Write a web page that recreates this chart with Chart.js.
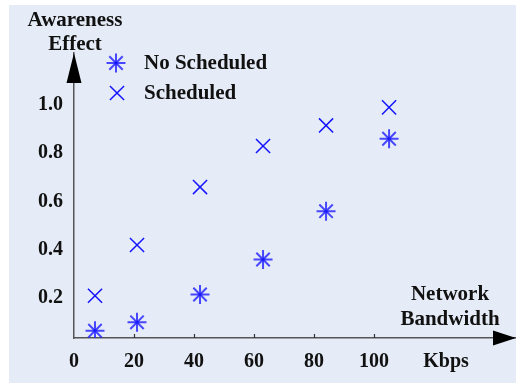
<!DOCTYPE html>
<html>
<head>
<meta charset="utf-8">
<script src="https://cdn.jsdelivr.net/npm/chart.js@4/dist/chart.umd.min.js"></script>
<style>
  html, body { margin: 0; padding: 0; background: #fff; }
  canvas { display: block; }
</style>
</head>
<body>
<canvas id="awareness" width="516" height="383"></canvas>
<script>
const bandwidth = [7, 21, 42, 63, 84, 105];
const noScheduled = [0.065, 0.10, 0.215, 0.36, 0.56, 0.86];
const scheduled = [0.21, 0.42, 0.66, 0.83, 0.915, 0.99];
const xTicks = [0, 20, 40, 60, 80, 100];
const yTicks = [0.2, 0.4, 0.6, 0.8, 1.0];
const unitTick = 124; // "Kbps" sits on the axis after 100

const blue = "rgb(20, 20, 255)";
const serif = "'Liberation Serif', 'Times New Roman', serif";

function toPoints(ys) {
  return bandwidth.map((x, i) => ({ x: x, y: ys[i] }));
}

const decor = {
  id: "decor",
  beforeDraw(chart) {
    const ctx = chart.ctx;
    ctx.save();
    ctx.fillStyle = "#ffffff";
    ctx.fillRect(0, 0, chart.width, chart.height);
    ctx.fillStyle = "#e6ecf7";
    ctx.fillRect(9, 5, chart.width - 9, chart.height - 5);
    ctx.restore();
  },
  afterDraw(chart) {
    const ctx = chart.ctx;
    const area = chart.chartArea;
    const xs = chart.scales.x;
    ctx.save();

    // small ticks above the x axis
    ctx.strokeStyle = "#333";
    ctx.lineWidth = 1.2;
    xTicks.slice(1).forEach((v) => {
      const px = Math.round(xs.getPixelForValue(v)) + 0.5;
      ctx.beginPath();
      ctx.moveTo(px, area.bottom);
      ctx.lineTo(px, area.bottom - 4);
      ctx.stroke();
    });

    // arrow heads
    ctx.fillStyle = "#000";
    ctx.beginPath();
    ctx.moveTo(area.left, area.top);
    ctx.lineTo(area.left - 7.5, area.top + 30);
    ctx.lineTo(area.left + 7.5, area.top + 30);
    ctx.closePath();
    ctx.fill();
    ctx.beginPath();
    ctx.moveTo(area.right, area.bottom);
    ctx.lineTo(area.right - 23, area.bottom - 7.5);
    ctx.lineTo(area.right - 23, area.bottom + 7.5);
    ctx.closePath();
    ctx.fill();

    // axis titles
    ctx.fillStyle = "#111";
    ctx.font = "bold 21px " + serif;
    ctx.textAlign = "center";
    ctx.textBaseline = "middle";
    ctx.fillText("Awareness", 75, 21);
    ctx.fillText("Effect", 75, 45);
    ctx.fillText("Network", 450, 295);
    ctx.fillText("Bandwidth", 450, 320);

    // legend
    const rows = [
      { ds: 0, x: 116, y: 63 },
      { ds: 1, x: 117, y: 93 }
    ];
    rows.forEach((r) => {
      const ds = chart.data.datasets[r.ds];
      ctx.strokeStyle = ds.borderColor;
      ctx.lineWidth = ds.borderWidth;
      Chart.helpers.drawPoint(ctx, {
        pointStyle: ds.pointStyle,
        radius: ds.pointRadius,
        borderWidth: ds.borderWidth,
        rotation: 0
      }, r.x, r.y);
      if (r.ds === 0) {
        ctx.fillStyle = blue;
        ctx.beginPath();
        ctx.arc(r.x, r.y, 1.8, 0, Math.PI * 2);
        ctx.fill();
      }
      ctx.fillStyle = "#111";
      ctx.textAlign = "left";
      ctx.fillText(ds.label, 144, r.y + 1);
    });
    ctx.restore();
  }
};

const config = {
  type: "scatter",
  data: {
    datasets: [
      {
        label: "No Scheduled",
        data: toPoints(noScheduled),
        pointStyle: "star",
        pointRadius: 9.5,
        pointHoverRadius: 9.5,
        borderColor: "rgba(30, 30, 255, 0.8)",
        backgroundColor: "rgba(30, 30, 255, 0.8)",
        borderWidth: 2
      },
      {
        label: "Scheduled",
        data: toPoints(scheduled),
        pointStyle: "crossRot",
        pointRadius: 10,
        pointHoverRadius: 10,
        borderColor: blue,
        backgroundColor: blue,
        borderWidth: 1.5
      },
      {
        label: "centre",
        data: toPoints(noScheduled),
        pointStyle: "circle",
        pointRadius: 1.8,
        borderWidth: 0,
        backgroundColor: blue
      }
    ]
  },
  options: {
    responsive: false,
    animation: false,
    devicePixelRatio: 1,
    layout: { autoPadding: false, padding: { top: 53, right: 0, bottom: 0, left: 0 } },
    plugins: {
      legend: { display: false },
      tooltip: { enabled: false }
    },
    scales: {
      x: {
        type: "linear",
        min: 0,
        max: 147.3,
        afterBuildTicks: (scale) => {
          scale.ticks = xTicks.concat([unitTick]).map((v) => ({ value: v }));
        },
        afterFit: (scale) => {
          scale.height = 45;
          scale.paddingLeft = 0;
          scale.paddingRight = 0;
        },
        grid: { display: false, drawTicks: false },
        border: { display: true, color: "#555", width: 1.5 },
        ticks: {
          padding: 12,
          color: "#111",
          font: { family: serif, size: 20, weight: "bold" },
          maxRotation: 0,
          autoSkip: false,
          callback: (v) => (v === unitTick ? "Kbps" : String(v))
        }
      },
      y: {
        type: "linear",
        min: 0.035,
        max: 1.215,
        afterBuildTicks: (scale) => {
          scale.ticks = yTicks.map((v) => ({ value: v }));
        },
        afterFit: (scale) => {
          scale.width = 74;
          scale.paddingTop = 0;
          scale.paddingBottom = 0;
        },
        grid: { display: false, drawTicks: false },
        border: { display: true, color: "#555", width: 1.5 },
        ticks: {
          padding: 11,
          color: "#111",
          font: { family: serif, size: 20, weight: "bold" },
          callback: (v) => v.toFixed(1)
        }
      }
    }
  },
  plugins: [decor]
};

new Chart(document.getElementById("awareness"), config);
</script>
</body>
</html>
